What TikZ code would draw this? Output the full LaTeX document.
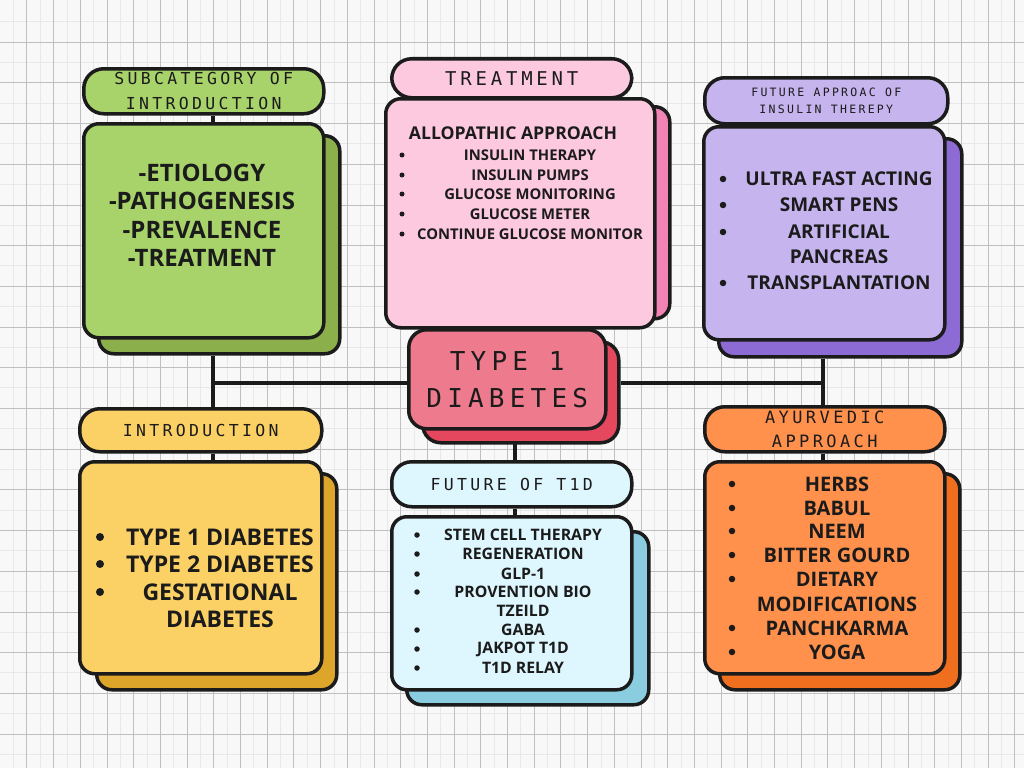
\documentclass[tikz,border=0pt]{standalone}
\usepackage{fontspec}
\setmainfont{Open Sans}
\newfontfamily\headfont[LetterSpace=20]{DejaVu Sans Mono}
\usetikzlibrary{positioning,backgrounds}

\definecolor{inkc}{HTML}{1B1B1B}
\definecolor{paperc}{HTML}{F8F8F8}
\definecolor{greenA}{HTML}{A8D26A}
\definecolor{greenB}{HTML}{8AAF4B}
\definecolor{pinkA}{HTML}{FDC9DF}
\definecolor{pinkB}{HTML}{F183B5}
\definecolor{lilacA}{HTML}{C6B4EE}
\definecolor{lilacB}{HTML}{8C6BD5}
\definecolor{roseA}{HTML}{EE7B8D}
\definecolor{roseB}{HTML}{E4475E}
\definecolor{yellowA}{HTML}{FBD166}
\definecolor{yellowB}{HTML}{DDA62A}
\definecolor{skyA}{HTML}{DEF6FD}
\definecolor{skyB}{HTML}{8BCDE0}
\definecolor{orangeA}{HTML}{FF914D}
\definecolor{orangeB}{HTML}{EF6F1F}

\tikzset{
  card/.style={draw=inkc, line width=3.5pt, rounded corners=15pt, anchor=north west, inner sep=0pt},
  pill/.style={draw=inkc, line width=3.5pt, rounded corners=20pt, anchor=north west, inner sep=0pt, align=center, text=inkc},
  sz/.style 2 args={minimum width=#1, minimum height=#2},
  head/.style 2 args={font={\headfont\fontsize{#1}{#2}\selectfont}},
  body/.style={font={\bfseries\fontsize{#1}{#1}\selectfont}, text=inkc, inner sep=0pt},
  dot/.style={circle, fill=inkc, inner sep=0pt, minimum size=#1},
  link/.style={draw=inkc, line width=3.5pt}
}

\begin{document}
\begin{tikzpicture}[x=1pt,y=-1pt]

  \useasboundingbox (0,0) rectangle (1024,768);

  % Draw the shadow cards
  \node[card, fill=greenB, sz={241}{218}] (subshadow) at (97,134) {};
  \node[card, fill=pinkB, sz={268}{212}] (treatshadow) at (400,105) {};
  \node[card, fill=lilacB, sz={243}{218}] (futinsshadow) at (717,137) {};
  \node[card, fill=roseB, sz={196}{101}, rounded corners=18pt] (coreshadow) at (421,340) {};
  \node[card, fill=yellowB, sz={240}{216}] (introshadow) at (95,472) {};
  \node[card, fill=skyB, sz={242}{173}] (futshadow) at (405,530) {};
  \node[card, fill=orangeB, sz={240}{216}] (ayurshadow) at (718,472) {};

  % Draw the front cards
  \node[card, fill=greenA, sz={240}{214}] (subbox) at (82,122) {};
  \node[card, fill=pinkA, sz={269}{229}] (treatbox) at (384,97) {};
  \node[card, fill=lilacA, sz={241}{213}] (futinsbox) at (702,125) {};
  \node[card, fill=yellowA, sz={242}{212}] (introbox) at (78,460) {};
  \node[card, fill=skyA, sz={240}{173}] (futbox) at (390,515) {};
  \node[card, fill=orangeA, sz={240}{212}] (ayurbox) at (703,460) {};

  % Draw the title pills
  \node[pill, fill=greenA, sz={240}{45}, head={16.5}{25}] (subpill) at (82,67) {SUBCATEGORY OF\\INTRODUCTION};
  \node[pill, fill=pinkA, sz={240}{39}, head={19}{19}] (treatpill) at (390,57) {TREATMENT};
  \node[pill, fill=lilacA, sz={243}{46}, head={11.5}{17}] (futinspill) at (703,76) {FUTURE APPROAC OF\\INSULIN THEREPY};
  \node[pill, fill=yellowA, sz={242}{43}, head={16.5}{16}] (intropill) at (78,407) {INTRODUCTION};
  \node[pill, fill=skyA, sz={240}{45}, head={16.5}{16}] (futpill) at (390,460) {FUTURE OF T1D};
  \node[pill, fill=orangeA, sz={240}{45}, head={17}{24}] (ayurpill) at (703,405) {AYURVEDIC\\APPROACH};

  % Draw the centre card
  \node[pill, fill=roseA, sz={197}{99}, rounded corners=18pt, head={26}{37}] (core) at (407,328) {TYPE 1\\DIABETES};

  % Connectors behind the cards
  \coordinate (lhub) at (213,383);
  \coordinate (rhub) at (823,383);
  \coordinate (mhub) at (515,441);
  \begin{pgfonlayer}{background}
    \fill[paperc] (0,0) rectangle (1024,768);
    \foreach \gx in {13.35,40.05,...,1024}
      \draw[gray!18, line width=0.4pt] (\gx,0) -- (\gx,768);
    \foreach \gy in {21.35,62.05,...,768}
      \draw[gray!18, line width=0.4pt] (0,\gy) -- (1024,\gy);
    \foreach \gx in {26.7,53.4,...,1024}
      \draw[gray!50, line width=0.6pt] (\gx,0) -- (\gx,768);
    \foreach \gy in {42,82.7,...,768}
      \draw[gray!50, line width=0.6pt] (0,\gy) -- (1024,\gy);
    \draw[link] (lhub |- subpill.south) -- (lhub |- subbox.north);
    \draw[link] (lhub |- subshadow.south) -- (lhub |- intropill.north);
    \draw[link] (lhub |- intropill.south) -- (lhub |- introbox.north);
    \draw[link] (lhub) -- (lhub -| core.west);
    \draw[link] (rhub -| coreshadow.east) -- (rhub);
    \draw[link] (rhub |- futinsshadow.south) -- (rhub |- ayurpill.north);
    \draw[link] (rhub |- ayurpill.south) -- (rhub |- ayurbox.north);
    \draw[link] (mhub) -- (mhub |- futpill.north);
    \draw[link] (mhub |- futpill.south) -- (mhub |- futbox.north);
  \end{pgfonlayer}

  % Subcategory text
  \node[body=24, align=center, font={\bfseries\fontsize{24}{28.5}\selectfont}] (subtext) at (202,215.5)
    {-ETIOLOGY\\-PATHOGENESIS\\-PREVALENCE\\-TREATMENT};

  % Treatment list
  \node[body=17.6] (allotitle) at (513,133) {ALLOPATHIC APPROACH};
  \foreach \yy/\txt in {155/INSULIN THERAPY, 175/INSULIN PUMPS, 194/GLUCOSE MONITORING, 214/GLUCOSE METER, 234/CONTINUE GLUCOSE MONITOR} {
    \node[body=14.8] (treatline\yy) at (530,\yy) {\txt};
    \node[dot=5pt] (treatdot\yy) at (402,\yy) {};
  }

  % Future insulin list
  \foreach \yy/\txt in {179/ULTRA FAST ACTING, 205/SMART PENS, 232/ARTIFICIAL, 257/PANCREAS, 283/TRANSPLANTATION}
    \node[body=19] (futinsline\yy) at (839,\yy) {\txt};
  \foreach \yy in {179,205,232,283}
    \node[dot=6.5pt] (futinsdot\yy) at (723,\yy) {};

  % Introduction list
  \foreach \yy/\txt in {537/TYPE 1 DIABETES, 564/TYPE 2 DIABETES, 592/GESTATIONAL, 619/DIABETES}
    \node[body=23] (introline\yy) at (220,\yy) {\txt};
  \foreach \yy in {537,564,592}
    \node[dot=8pt] (introdot\yy) at (100,\yy) {};

  % Future of T1D list
  \foreach \yy/\txt in {535/STEM CELL THERAPY, 554/REGENERATION, 574/GLP-1, 592/PROVENTION BIO, 611/TZEILD, 630/GABA, 649/JAKPOT T1D, 668/T1D RELAY}
    \node[body=15.8] (futline\yy) at (523,\yy) {\txt};
  \foreach \yy in {535,554,574,592,630,649,668}
    \node[dot=5.5pt] (futdot\yy) at (417,\yy) {};

  % Ayurvedic list
  \foreach \yy/\txt in {484/HERBS, 508/BABUL, 531/NEEM, 555/BITTER GOURD, 579/DIETARY, 604/MODIFICATIONS, 628/PANCHKARMA, 652/YOGA}
    \node[body=20] (ayurline\yy) at (837,\yy) {\txt};
  \foreach \yy in {484,508,531,555,579,628,652}
    \node[dot=6.5pt] (ayurdot\yy) at (732,\yy) {};

\end{tikzpicture}
\end{document}
